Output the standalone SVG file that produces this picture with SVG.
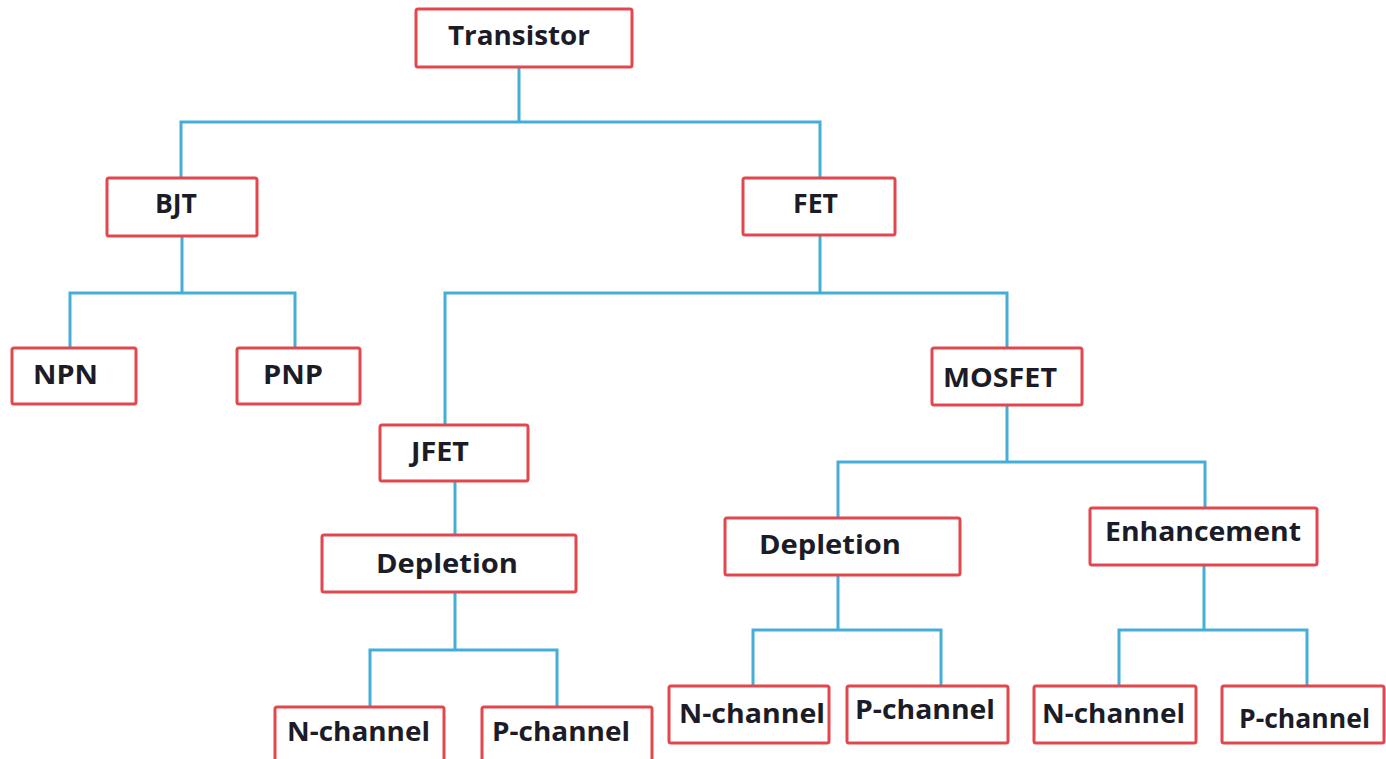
<svg xmlns="http://www.w3.org/2000/svg" width="1386" height="759" viewBox="0 0 1386 759">
<style>
.box{fill:#ffffff;stroke:#e2474e;stroke-width:3}
.lbl{font-family:"Open Sans","Liberation Sans",sans-serif;font-weight:bold;font-size:27px;fill:#1c1c28}
.con{fill:none;stroke:#45aed8;stroke-width:3;stroke-linejoin:miter}
</style>
<rect width="1386" height="759" fill="#ffffff"/>
<g id="connectors">
<path class="con" d="M519,67 V122 M181,178 V122 H820 V178"/>
<path class="con" d="M182,236 V293 M70,348 V293 H295 V348"/>
<path class="con" d="M820,235 V293 M445,425 V293 H1007 V348"/>
<path class="con" d="M455,481 V535"/>
<path class="con" d="M455,592 V650 M370,707 V650 H557 V707"/>
<path class="con" d="M1007,405 V462 M838,518 V462 H1205 V508"/>
<path class="con" d="M838,575 V630 M753,686 V630 H941 V686"/>
<path class="con" d="M1204,565 V630 M1119,686 V630 H1307 V686"/>
</g>
<g id="transistor"><rect class="box" x="416" y="9" width="216" height="58" rx="2"/><text class="lbl" x="448" y="45" textLength="142" lengthAdjust="spacingAndGlyphs">Transistor</text></g>
<g id="bjt"><rect class="box" x="107" y="178" width="150" height="58" rx="2"/><text class="lbl" x="155" y="213" textLength="42" lengthAdjust="spacingAndGlyphs">BJT</text></g>
<g id="fet"><rect class="box" x="743" y="178" width="152" height="57" rx="2"/><text class="lbl" x="793" y="213" textLength="45" lengthAdjust="spacingAndGlyphs">FET</text></g>
<g id="npn"><rect class="box" x="12" y="348" width="124" height="56" rx="2"/><text class="lbl" x="33" y="384" textLength="65" lengthAdjust="spacingAndGlyphs">NPN</text></g>
<g id="pnp"><rect class="box" x="237" y="348" width="123" height="56" rx="2"/><text class="lbl" x="263" y="384" textLength="60" lengthAdjust="spacingAndGlyphs">PNP</text></g>
<g id="jfet"><rect class="box" x="380" y="425" width="148" height="56" rx="2"/><text class="lbl" x="411" y="461" textLength="58" lengthAdjust="spacingAndGlyphs">JFET</text></g>
<g id="mosfet"><rect class="box" x="932" y="348" width="150" height="57" rx="2"/><text class="lbl" x="943" y="387" textLength="114" lengthAdjust="spacingAndGlyphs">MOSFET</text></g>
<g id="jfet-depletion"><rect class="box" x="322" y="535" width="254" height="57" rx="2"/><text class="lbl" x="376" y="573" textLength="142" lengthAdjust="spacingAndGlyphs">Depletion</text></g>
<g id="mosfet-depletion"><rect class="box" x="725" y="518" width="235" height="57" rx="2"/><text class="lbl" x="759" y="554" textLength="142" lengthAdjust="spacingAndGlyphs">Depletion</text></g>
<g id="enhancement"><rect class="box" x="1090" y="508" width="227" height="57" rx="2"/><text class="lbl" x="1105" y="541" textLength="196" lengthAdjust="spacingAndGlyphs">Enhancement</text></g>
<g id="jfet-n"><rect class="box" x="275" y="707" width="169" height="60" rx="2"/><text class="lbl" x="287" y="741" textLength="143" lengthAdjust="spacingAndGlyphs">N-channel</text></g>
<g id="jfet-p"><rect class="box" x="482" y="707" width="170" height="60" rx="2"/><text class="lbl" x="492" y="741" textLength="138" lengthAdjust="spacingAndGlyphs">P-channel</text></g>
<g id="dep-n"><rect class="box" x="669" y="686" width="160" height="57" rx="2"/><text class="lbl" x="679" y="723" textLength="146" lengthAdjust="spacingAndGlyphs">N-channel</text></g>
<g id="dep-p"><rect class="box" x="847" y="686" width="161" height="57" rx="2"/><text class="lbl" x="855" y="719" textLength="140" lengthAdjust="spacingAndGlyphs">P-channel</text></g>
<g id="enh-n"><rect class="box" x="1034" y="686" width="162" height="57" rx="2"/><text class="lbl" x="1042" y="723" textLength="143" lengthAdjust="spacingAndGlyphs">N-channel</text></g>
<g id="enh-p"><rect class="box" x="1222" y="686" width="162" height="57" rx="2"/><text class="lbl" x="1239" y="728" textLength="131" lengthAdjust="spacingAndGlyphs">P-channel</text></g>
</svg>
